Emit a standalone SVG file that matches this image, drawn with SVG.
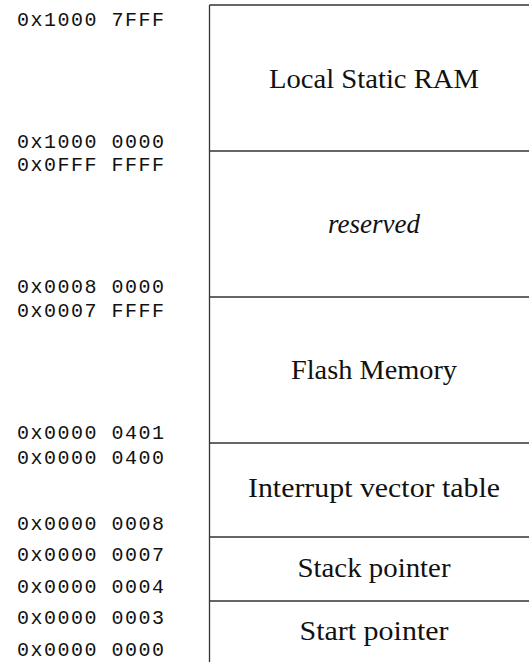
<svg xmlns="http://www.w3.org/2000/svg" width="529" height="662" viewBox="0 0 529 662">
  <style>
    .addr { font-family: "Liberation Mono", "DejaVu Sans Mono", monospace; font-size: 20px; letter-spacing: 1.5px; fill: #111; }
    .lbl { font-family: "Liberation Serif", "DejaVu Serif", serif; font-size: 28px; fill: #111; text-anchor: middle; }
    .it { font-style: italic; }
    .edge { stroke: #333; stroke-width: 1.3; fill: none; }
  </style>
  <rect width="529" height="662" fill="#fff"/>

  <!-- memory map frame and region boundaries -->
  <g id="connectors">
    <line class="edge" x1="209.5" y1="662" x2="209.5" y2="5"/>
    <line class="edge" x1="209.5" y1="5" x2="529" y2="5"/>
    <line class="edge" x1="209.5" y1="151" x2="529" y2="151"/>
    <line class="edge" x1="209.5" y1="297" x2="529" y2="297"/>
    <line class="edge" x1="209.5" y1="443" x2="529" y2="443"/>
    <line class="edge" x1="209.5" y1="537" x2="529" y2="537"/>
    <line class="edge" x1="209.5" y1="601" x2="529" y2="601"/>
  </g>

  <g id="sram">
    <text class="lbl" x="374" y="88" textLength="210" lengthAdjust="spacingAndGlyphs">Local Static RAM</text>
    <text class="addr" x="17" y="26">0x1000 7FFF</text>
    <text class="addr" x="17" y="148">0x1000 0000</text>
  </g>

  <g id="reserved">
    <text class="lbl it" x="374" y="233" textLength="92" lengthAdjust="spacingAndGlyphs">reserved</text>
    <text class="addr" x="17" y="171">0x0FFF FFFF</text>
    <text class="addr" x="17" y="293">0x0008 0000</text>
  </g>

  <g id="flash">
    <text class="lbl" x="374" y="379" textLength="166" lengthAdjust="spacingAndGlyphs">Flash Memory</text>
    <text class="addr" x="17" y="317">0x0007 FFFF</text>
    <text class="addr" x="17" y="439">0x0000 0401</text>
  </g>

  <g id="vectors">
    <text class="lbl" x="374" y="497" textLength="252" lengthAdjust="spacingAndGlyphs">Interrupt vector table</text>
    <text class="addr" x="17" y="464">0x0000 0400</text>
    <text class="addr" x="17" y="530">0x0000 0008</text>
  </g>

  <g id="stack">
    <text class="lbl" x="374" y="577" textLength="153" lengthAdjust="spacingAndGlyphs">Stack pointer</text>
    <text class="addr" x="17" y="561">0x0000 0007</text>
    <text class="addr" x="17" y="593">0x0000 0004</text>
  </g>

  <g id="start">
    <text class="lbl" x="374" y="640" textLength="149" lengthAdjust="spacingAndGlyphs">Start pointer</text>
    <text class="addr" x="17" y="624">0x0000 0003</text>
    <text class="addr" x="17" y="656">0x0000 0000</text>
  </g>
</svg>
